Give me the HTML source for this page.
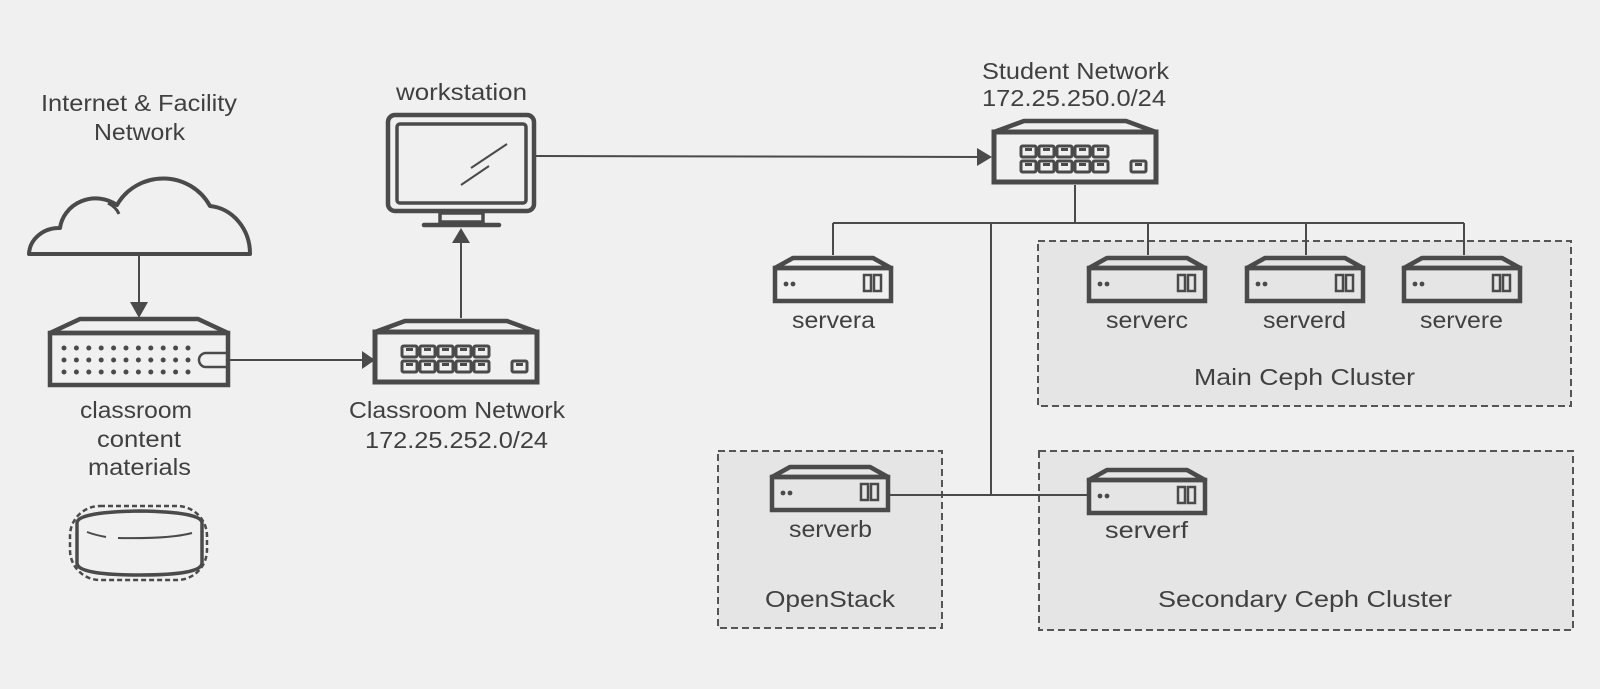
<!DOCTYPE html>
<html><head><meta charset="utf-8"><style>
html,body{margin:0;padding:0;background:#f0f0f0;}
svg{display:block;}
text{font-family:"Liberation Sans",sans-serif;fill:#404040;font-size:23px;}
</style></head><body>
<svg width="1600" height="689" viewBox="0 0 1600 689" xmlns="http://www.w3.org/2000/svg">
<defs>
<g id="srv">
  <path d="M2,13 L20,3 L100,3 L118,13 Z" fill="none" stroke="#4a4a4a" stroke-width="4.5" stroke-linejoin="round"/>
  <rect x="2" y="13" width="116" height="33" fill="none" stroke="#4a4a4a" stroke-width="4.5"/>
  <circle cx="13" cy="29" r="2.4" fill="#4a4a4a"/><circle cx="20" cy="29" r="2.4" fill="#4a4a4a"/>
  <rect x="91" y="20" width="7" height="16" fill="none" stroke="#4a4a4a" stroke-width="2.5"/>
  <rect x="101" y="20" width="7" height="16" fill="none" stroke="#4a4a4a" stroke-width="2.5"/>
</g>
<g id="port"><rect x="0" y="0" width="15" height="11" rx="1.5" fill="none" stroke="#4a4a4a" stroke-width="3"/><rect x="4" y="2" width="7" height="3" fill="#4a4a4a"/></g>
<g id="sw">
  <path d="M2,14 L32,3 L134,3 L164,14 Z" fill="none" stroke="#4a4a4a" stroke-width="4.5" stroke-linejoin="round"/>
  <rect x="2" y="14" width="162" height="50" fill="none" stroke="#4a4a4a" stroke-width="5"/>
  <use href="#port" x="29" y="28"/><use href="#port" x="47" y="28"/><use href="#port" x="65" y="28"/><use href="#port" x="83" y="28"/><use href="#port" x="101" y="28"/>
  <use href="#port" x="29" y="43"/><use href="#port" x="47" y="43"/><use href="#port" x="65" y="43"/><use href="#port" x="83" y="43"/><use href="#port" x="101" y="43"/>
  <use href="#port" x="139" y="43"/>
</g>
</defs>

<rect x="1038" y="241" width="533" height="165" fill="#e5e5e5" stroke="#555" stroke-width="2" stroke-dasharray="7,4"/>
<rect x="718" y="451" width="224" height="177" fill="#e5e5e5" stroke="#555" stroke-width="2" stroke-dasharray="7,4"/>
<rect x="1039" y="451" width="534" height="179" fill="#e5e5e5" stroke="#555" stroke-width="2" stroke-dasharray="7,4"/>

<g stroke="#4a4a4a" stroke-width="2" fill="none">
  <line x1="139" y1="255" x2="139" y2="305"/>
  <line x1="229" y1="360" x2="364" y2="360"/>
  <line x1="461" y1="318" x2="461" y2="240"/>
  <line x1="536" y1="156" x2="982" y2="157"/>
  <line x1="1075" y1="185" x2="1075" y2="223"/>
  <line x1="833" y1="223" x2="1464" y2="223"/>
  <line x1="833" y1="223" x2="833" y2="255"/>
  <line x1="1148" y1="223" x2="1148" y2="255"/>
  <line x1="1306" y1="223" x2="1306" y2="255"/>
  <line x1="1464" y1="223" x2="1464" y2="255"/>
  <line x1="991" y1="223" x2="991" y2="495"/>
  <line x1="889" y1="495" x2="1088" y2="495"/>
</g>
<g fill="#4a4a4a">
  <polygon points="130,302 148,302 139,318"/>
  <polygon points="362,351 362,369 375,360"/>
  <polygon points="452,243 470,243 461,228"/>
  <polygon points="977,148 977,166 992,157"/>
</g>

<path d="M29,254 A30,27 0 0 1 60,228 A36,34 0 0 1 117,205 A53,52 0 0 1 210,206 A44,48 0 0 1 250,254 Z" fill="none" stroke="#4a4a4a" stroke-width="4" stroke-linejoin="round"/>
<path d="M108,203 Q116,207 119,214" fill="none" stroke="#4a4a4a" stroke-width="3"/>
<path d="M197,213 Q203,206 214,207" fill="none" stroke="#f0f0f0" stroke-width="0"/>

<path d="M50,333 L80,319 L198,319 L228,333 Z" fill="none" stroke="#4a4a4a" stroke-width="4.5" stroke-linejoin="round"/>
<rect x="50" y="333" width="178" height="52" fill="none" stroke="#4a4a4a" stroke-width="4.5"/>
<g fill="#4a4a4a">
<g id="drow"><circle cx="64" cy="348" r="2.5"/><circle cx="76.4" cy="348" r="2.5"/><circle cx="88.8" cy="348" r="2.5"/><circle cx="101.2" cy="348" r="2.5"/><circle cx="113.6" cy="348" r="2.5"/><circle cx="126" cy="348" r="2.5"/><circle cx="138.4" cy="348" r="2.5"/><circle cx="150.8" cy="348" r="2.5"/><circle cx="163.2" cy="348" r="2.5"/><circle cx="175.6" cy="348" r="2.5"/><circle cx="188" cy="348" r="2.5"/></g>
<use href="#drow" y="12"/><use href="#drow" y="24"/>
</g>
<path d="M226,353 L206,353 A7,7 0 0 0 206,367 L226,367" fill="none" stroke="#4a4a4a" stroke-width="2.5"/>

<use href="#sw" x="373" y="318"/>
<use href="#sw" x="992" y="118"/>

<rect x="388" y="115" width="146" height="96" rx="7" fill="none" stroke="#4a4a4a" stroke-width="4.5"/>
<rect x="397" y="124" width="129" height="79" rx="3" fill="none" stroke="#4a4a4a" stroke-width="3.5"/>
<rect x="440" y="213" width="43" height="9" fill="none" stroke="#4a4a4a" stroke-width="3.5"/>
<line x1="424" y1="225" x2="499" y2="225" stroke="#4a4a4a" stroke-width="4.5" stroke-linecap="round"/>
<line x1="471" y1="168" x2="507" y2="144" stroke="#4a4a4a" stroke-width="2"/>
<line x1="461" y1="185" x2="489" y2="166" stroke="#4a4a4a" stroke-width="2"/>

<rect x="70" y="506" width="137" height="74" rx="30" ry="30" fill="none" stroke="#4a4a4a" stroke-width="2.5" stroke-dasharray="5,3"/>
<path d="M77,523 Q77,512 140,511 Q202,512 202,523 L202,563 Q202,575 140,575 Q77,575 77,563 Z" fill="none" stroke="#4a4a4a" stroke-width="3.5"/>
<path d="M87,532 Q95,535 106,537" fill="none" stroke="#4a4a4a" stroke-width="2"/>
<path d="M118,538 Q170,539 192,533" fill="none" stroke="#4a4a4a" stroke-width="2"/>

<use href="#srv" x="773" y="255"/>
<use href="#srv" x="1087" y="255"/>
<use href="#srv" x="1245" y="255"/>
<use href="#srv" x="1402" y="255"/>
<use href="#srv" x="770" y="464"/>
<use href="#srv" x="1087" y="467"/>

<text x="41" y="111" textLength="196" lengthAdjust="spacingAndGlyphs">Internet &amp; Facility</text>
<text x="94" y="140" textLength="91" lengthAdjust="spacingAndGlyphs">Network</text>
<text x="396" y="100" textLength="131" lengthAdjust="spacingAndGlyphs">workstation</text>
<text x="982" y="79" textLength="187" lengthAdjust="spacingAndGlyphs">Student Network</text>
<text x="982" y="106" textLength="184" lengthAdjust="spacingAndGlyphs">172.25.250.0/24</text>
<text x="80" y="418" textLength="112" lengthAdjust="spacingAndGlyphs">classroom</text>
<text x="97" y="447" textLength="84" lengthAdjust="spacingAndGlyphs">content</text>
<text x="88" y="475" textLength="103" lengthAdjust="spacingAndGlyphs">materials</text>
<text x="349" y="418" textLength="216" lengthAdjust="spacingAndGlyphs">Classroom Network</text>
<text x="365" y="448" textLength="183" lengthAdjust="spacingAndGlyphs">172.25.252.0/24</text>
<text x="792" y="328" textLength="83" lengthAdjust="spacingAndGlyphs">servera</text>
<text x="1106" y="328" textLength="82" lengthAdjust="spacingAndGlyphs">serverc</text>
<text x="1263" y="328" textLength="83" lengthAdjust="spacingAndGlyphs">serverd</text>
<text x="1420" y="328" textLength="83" lengthAdjust="spacingAndGlyphs">servere</text>
<text x="1194" y="385" textLength="221" lengthAdjust="spacingAndGlyphs">Main Ceph Cluster</text>
<text x="789" y="537" textLength="83" lengthAdjust="spacingAndGlyphs">serverb</text>
<text x="1105" y="538" textLength="83" lengthAdjust="spacingAndGlyphs">serverf</text>
<text x="765" y="607" textLength="130" lengthAdjust="spacingAndGlyphs">OpenStack</text>
<text x="1158" y="607" textLength="294" lengthAdjust="spacingAndGlyphs">Secondary Ceph Cluster</text>
</svg>
</body></html>
